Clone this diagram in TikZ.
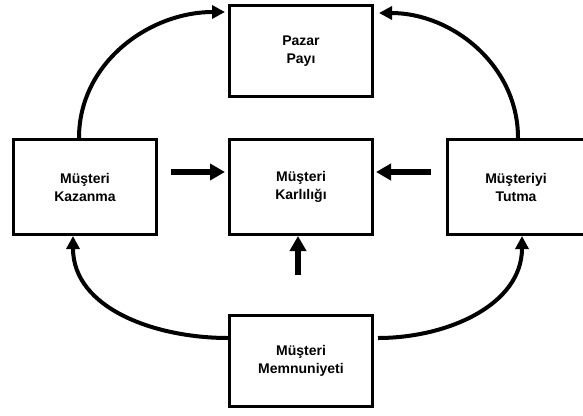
\documentclass[tikz,border=0pt]{standalone}
\usepackage{fontspec}
\setmainfont{Liberation Sans}
\usetikzlibrary{arrows.meta}
\begin{document}
\begin{tikzpicture}[x=1pt,y=-1pt,
  box/.style={draw, line width=3pt, minimum width=143pt, minimum height=95pt,
    align=center, inner sep=0pt, font=\bfseries\fontsize{14}{18}\selectfont},
  loop/.style={line width=4pt, -{Triangle[length=13pt,width=13pt]}},
  push/.style={line width=6pt, -{Triangle[length=15pt,width=16pt]}}]
\useasboundingbox (0,0) rectangle (583,415);
\clip (0,0) rectangle (583,415);

% the five boxes
\node[box, minimum height=91pt] (pazar) at (301,51) {Pazar\\Payı};
\node[box] (kazan) at (85,187) {Müşteri\\Kazanma};
\node[box] (karl) at (301,187) {Müşteri\\Karlılığı};
\node[box, minimum width=137pt] (tut) at (516,187) {Müşteriyi\\Tutma};
\node[box, minimum height=91pt] (memn) at (301,361) {Müşteri\\Memnuniyeti};

% outer loop
\draw[loop] ([xshift=-6pt]kazan.north) to[out=90,in=180] ([xshift=-3pt,yshift=39pt]pazar.west);
\draw[loop] ([xshift=2pt]tut.north) to[out=90,in=0] ([xshift=5pt,yshift=38pt]pazar.east);
\draw[loop] ([yshift=23pt]memn.west) to[out=180,in=-90] ([xshift=-12pt]kazan.south);
\draw[loop] ([xshift=4pt,yshift=23pt]memn.east) to[out=0,in=-90] ([xshift=6pt]tut.south);

% inward arrows to the centre box
\draw[push] ([xshift=13pt,yshift=15pt]kazan.east) -- ([xshift=-3pt,yshift=15pt]karl.west);
\draw[push] ([xshift=-15pt,yshift=15pt]tut.west) -- ([xshift=2pt,yshift=15pt]karl.east);
\draw[push] ([xshift=-3pt,yshift=39pt]memn.north) -- ([xshift=-3pt]karl.south);
\end{tikzpicture}
\end{document}
